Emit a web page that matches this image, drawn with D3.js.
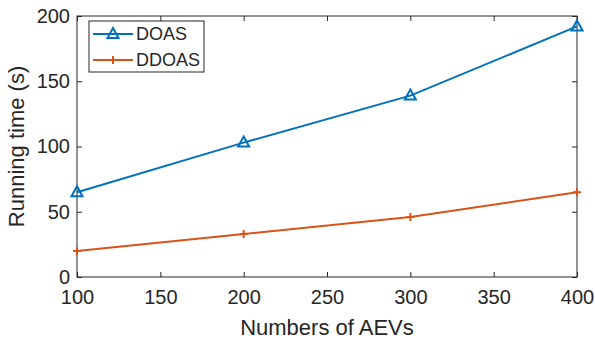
<!DOCTYPE html>
<html>
<head>
<meta charset="utf-8">
<script src="https://cdn.jsdelivr.net/npm/d3@7"></script>
<style>
  body { margin: 0; background: #fff; }
  text { font-family: "Liberation Sans", Arial, sans-serif; fill: #262626; }
  .axis path, .axis line { stroke: #262626; }
</style>
</head>
<body>
<div id="plot"></div>
<script>
const aevs = [100, 200, 300, 400];
const doas = [65, 103, 139, 192];
const ddoas = [20, 33, 46, 65];
const xTicks = [100, 150, 200, 250, 300, 350, 400];
const yTicks = [0, 50, 100, 150, 200];
const seriesNames = ['DOAS', 'DDOAS'];
const colors = ['#0072BD', '#D95319'];

const margin = {top: 16, right: 18, bottom: 63, left: 77};
const W = 595, H = 340;
const width = W - margin.left - margin.right;
const height = H - margin.top - margin.bottom;

const svg = d3.select('#plot').append('svg')
  .attr('width', W).attr('height', H);
const g = svg.append('g')
  .attr('transform', `translate(${margin.left},${margin.top})`);

const x = d3.scaleLinear().domain([100, 400]).range([0, width]);
const y = d3.scaleLinear().domain([0, 200]).range([height, 0]);

// Box
g.append('rect')
  .attr('width', width).attr('height', height)
  .attr('fill', 'none').attr('stroke', '#262626').attr('stroke-width', 1);

// Axes (ticks inside, MATLAB style)
g.append('g').attr('class', 'axis')
  .attr('transform', `translate(0,${height})`)
  .call(d3.axisBottom(x).tickValues(xTicks).tickSize(-5).tickPadding(13));
g.append('g').attr('class', 'axis')
  .call(d3.axisTop(x).tickValues(xTicks).tickSize(-5).tickFormat(''));
g.append('g').attr('class', 'axis')
  .call(d3.axisLeft(y).tickValues(yTicks).tickSize(-5).tickPadding(7));
g.append('g').attr('class', 'axis')
  .attr('transform', `translate(${width},0)`)
  .call(d3.axisRight(y).tickValues(yTicks).tickSize(-5).tickFormat(''));
g.selectAll('.axis .domain').remove();
g.selectAll('.axis text').style('font-size', '20px');

// Axis labels
g.append('text')
  .attr('x', width / 2).attr('y', height + 57.5)
  .attr('text-anchor', 'middle')
  .style('font-size', '22px')
  .text('Numbers of AEVs');
g.append('text')
  .attr('transform', `translate(-53,${height / 2}) rotate(-90)`)
  .attr('text-anchor', 'middle')
  .style('font-size', '22px')
  .text('Running time (s)');

const line = d3.line().x(d => x(d[0])).y(d => y(d[1]));
const series = [doas, ddoas].map(vals => aevs.map((a, i) => [a, vals[i]]));

series.forEach((pts, i) => {
  g.append('path')
    .datum(pts)
    .attr('fill', 'none')
    .attr('stroke', colors[i])
    .attr('stroke-width', 2)
    .attr('d', line);
});

function drawMarker(sel, kind, color) {
  if (kind === 0) {
    sel.append('path')
      .attr('d', 'M0,-6L5.5,4L-5.5,4Z')
      .attr('fill', 'none')
      .attr('stroke', color)
      .attr('stroke-width', 2);
  } else {
    sel.append('path')
      .attr('d', 'M-4,0H4M0,-4V4')
      .attr('stroke', color)
      .attr('stroke-width', 2);
  }
}

series.forEach((pts, i) => {
  g.append('g').selectAll('g')
    .data(pts)
    .enter().append('g')
    .attr('transform', d => `translate(${x(d[0])},${y(d[1])})`)
    .each(function () { drawMarker(d3.select(this), i, colors[i]); });
});

// Legend
const lg = g.append('g').attr('transform', 'translate(12,5)');
lg.append('rect')
  .attr('width', 115).attr('height', 51)
  .attr('fill', '#fff').attr('stroke', '#262626').attr('stroke-width', 1);
seriesNames.forEach((name, i) => {
  const row = lg.append('g').attr('transform', `translate(0,${13 + i * 26})`);
  row.append('line')
    .attr('x1', 4).attr('x2', 44)
    .attr('stroke', colors[i]).attr('stroke-width', 2);
  const m = row.append('g').attr('transform', 'translate(24,0)');
  drawMarker(m, i, colors[i]);
  row.append('text')
    .attr('x', 47).attr('dy', '0.36em')
    .style('font-size', '18px')
    .text(name);
});
</script>
</body>
</html>
